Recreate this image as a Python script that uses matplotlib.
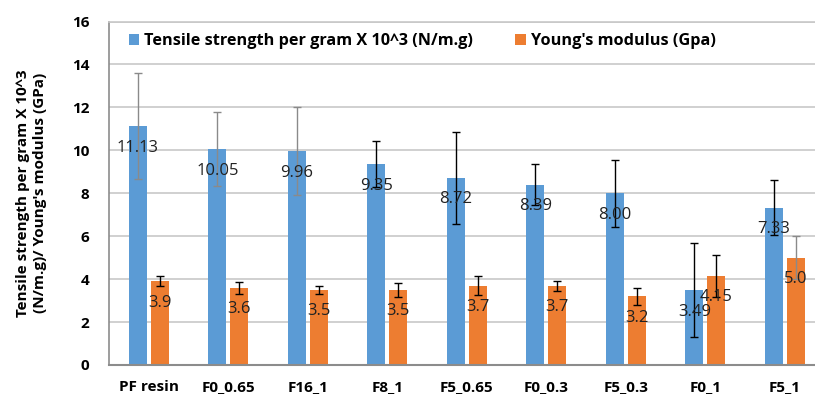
import numpy as np
import matplotlib.pyplot as plt

plt.rcParams['font.family'] = ['Open Sans', 'DejaVu Sans']

categories = ['PF resin', 'F0_0.65', 'F16_1', 'F8_1', 'F5_0.65', 'F0_0.3', 'F5_0.3', 'F0_1', 'F5_1']
tensile = [11.13, 10.05, 9.96, 9.35, 8.72, 8.39, 8.00, 3.49, 7.33]
tensile_err = [2.45, 1.72, 2.05, 1.08, 2.13, 0.96, 1.57, 2.17, 1.27]
young = [3.9, 3.6, 3.5, 3.5, 3.7, 3.7, 3.2, 4.15, 5.0]
young_err = [0.23, 0.28, 0.18, 0.32, 0.44, 0.23, 0.40, 0.97, 1.0]
tensile_labels = ['11.13', '10.05', '9.96', '9.35', '8.72', '8.39', '8.00', '3.49', '7.33']
young_labels = ['3.9', '3.6', '3.5', '3.5', '3.7', '3.7', '3.2', '4.15', '5.0']

blue = '#5B9BD5'
orange = '#ED7D31'
gray_err = '#8a8a8a'
tensile_ecol = [gray_err, gray_err, gray_err, 'black', 'black', 'black', 'black', 'black', 'black']
young_ecol = ['black'] * 8 + [gray_err]

fig = plt.figure(figsize=(8.15, 3.97), dpi=100)
ax = fig.add_axes([109 / 815, 1 - 365 / 397, 1 - 109 / 815, (365 - 21.5) / 397])

x = np.arange(len(categories))
w = 0.223
off = 0.138
ax.bar(x - off, tensile, w, color=blue, label='Tensile strength per gram X 10^3 (N/m.g)', zorder=2)
ax.bar(x + off, young, w, color=orange, label="Young's modulus (Gpa)", zorder=2)

for i in range(len(x)):
    ax.errorbar(x[i] - off, tensile[i], yerr=tensile_err[i], fmt='none', ecolor=tensile_ecol[i],
                elinewidth=1.0, capsize=3, capthick=1.0, zorder=3)
    ax.errorbar(x[i] + off, young[i], yerr=young_err[i], fmt='none', ecolor=young_ecol[i],
                elinewidth=1.0, capsize=3, capthick=1.0, zorder=3)
    ax.text(x[i] - off, tensile[i] - 1.0, tensile_labels[i], ha='center', va='center',
            fontsize=12, color='#222222', zorder=4)
    ax.text(x[i] + off, young[i] - 1.0, young_labels[i], ha='center', va='center',
            fontsize=12, color='#222222', zorder=4)

ax.set_xlim(-0.5, 8.38)
ax.set_ylim(0, 16)
ax.set_yticks(np.arange(0, 17, 2))
ax.set_xticks(x)
ax.set_xticklabels(categories, fontsize=11, fontweight='bold')
ax.tick_params(axis='y', labelsize=11, length=0, pad=14)
ax.tick_params(axis='x', length=0, pad=11)
for lab in ax.get_yticklabels():
    lab.set_fontweight('bold')
ax.yaxis.grid(True, color='#c8c8c8', linewidth=1.2, zorder=0)
ax.set_axisbelow(True)
ax.spines['right'].set_visible(False)
ax.spines['top'].set_color('#c8c8c8')
ax.spines['top'].set_linewidth(1.2)
ax.spines['left'].set_color('#8c8c8c')
ax.spines['left'].set_linewidth(1.2)
ax.spines['bottom'].set_color('#8c8c8c')
ax.spines['bottom'].set_linewidth(1.5)

ax.set_ylabel("Tensile strength per gram X 10^3\n(N/m.g)/ Young's modulus (GPa)",
              fontsize=11, fontweight='bold', labelpad=18, linespacing=1.25)

leg = ax.legend(loc='upper left', bbox_to_anchor=(0.012, 1.0), ncol=2, frameon=False,
                prop={'size': 11.7, 'weight': 'bold'}, handlelength=0.65, handleheight=0.65,
                handletextpad=0.3, columnspacing=2.6, borderaxespad=0.3)

plt.savefig('out.png', dpi=100)
plt.close()
